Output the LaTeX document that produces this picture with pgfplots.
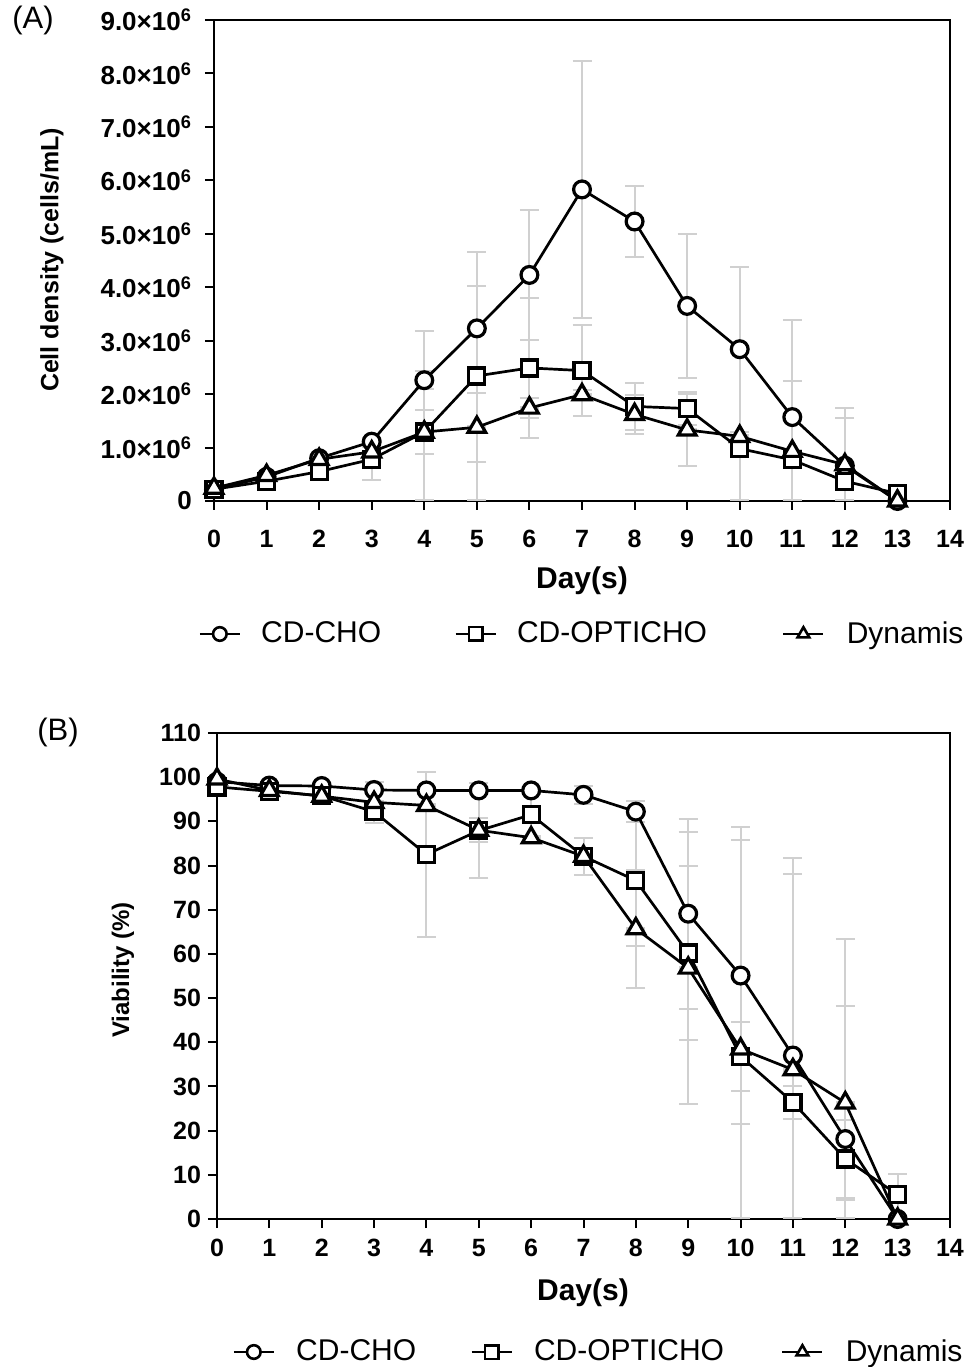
\documentclass[border=0pt]{standalone}
\usepackage{pgfplots}
\pgfplotsset{compat=1.18}
\usepackage{pgfplotstable}
\usetikzlibrary{arrows.meta}
\usepackage{fontspec}
\setmainfont{Liberation Sans}
\definecolor{errgray}{RGB}{208,208,208}
\newcommand{\tickfont}{\fontsize{12.5}{14}\selectfont\bfseries}
\newcommand{\legfont}{\fontsize{15}{17}\selectfont}

% day, mean, error plus, error minus
\pgfplotstableread{
x y ep em
0 0.22 0 0
1 0.45 0.05 0.05
2 0.80 0.05 0.05
3 1.11 0.05 0.05
4 2.26 0.19 0.19
5 3.23 0.81 0.81
6 4.23 1.23 1.23
7 5.83 2.42 2.42
8 5.23 0.68 0.68
9 3.65 1.37 1.37
10 2.84 1.56 1.56
11 1.57 1.84 1.57
12 0.66 1.09 0.66
13 0.00 0 0
}\Acho
\pgfplotstableread{
x y ep em
0 0.22 0 0
1 0.37 0.05 0.05
2 0.55 0.05 0.05
3 0.78 0.30 0.41
4 1.29 1.91 1.29
5 2.34 2.34 2.34
6 2.49 1.33 1.33
7 2.44 0.87 0.87
8 1.77 0.46 0.46
9 1.73 0.32 0.32
10 0.98 1.85 0.98
11 0.77 0.10 0.10
12 0.37 0.10 0.10
13 0.14 0 0
}\Aopti
\pgfplotstableread{
x y ep em
0 0.24 0 0
1 0.48 0.05 0.05
2 0.78 0.05 0.05
3 0.92 0.10 0.10
4 1.29 0.43 0.43
5 1.38 0.66 0.66
6 1.74 0.20 0.20
7 1.99 0.10 0.10
8 1.62 0.38 0.38
9 1.33 0.69 0.69
10 1.21 0.10 0.10
11 0.93 1.33 0.93
12 0.68 0.89 0.68
13 0.00 0 0
}\Adyn
\pgfplotstableread{
x y ep em
0 99.0 0 0
1 98.1 0 0
2 98.0 0 0
3 97.1 0 0
4 97.0 0 0
5 97.0 0 0
6 97.0 0 0
7 96.0 2.3 2.3
8 92.2 2.6 2.6
9 69.1 21.7 21.7
10 55.1 33.8 33.8
11 37.0 45.0 37.0
12 18.1 45.4 18.1
13 0.0 0 0
}\Bcho
\pgfplotstableread{
x y ep em
0 97.8 0 0
1 96.8 0 0
2 95.8 0 0
3 92.2 0 0
4 82.5 19.0 19.0
5 87.9 11.0 11.0
6 91.5 5.0 5.0
7 82.1 4.4 4.4
8 76.6 15.0 15.0
9 60.2 20.0 20.0
10 36.8 8.0 8.0
11 26.4 4.0 4.0
12 13.6 9.0 9.0
13 5.5 5.0 5.0
}\Bopti
\pgfplotstableread{
x y ep em
0 99.6 0 0
1 97.0 0 0
2 95.7 0 0
3 94.3 4.8 4.8
4 93.6 0 0
5 88.0 3.0 3.0
6 86.3 0 0
7 82.1 2.0 2.0
8 65.7 13.6 13.6
9 56.8 31.0 31.0
10 38.5 47.5 38.5
11 33.8 44.4 33.8
12 26.3 22.2 22.2
13 0.0 0 0
}\Bdyn

\pgfplotsset{
  panel/.style={
    scale only axis, clip=false,
    xmin=0, xmax=14, xtick={0,...,14},
    tick pos=left, tick align=outside, major tick length=4.5pt,
    axis line style={line width=1pt},
    every tick/.style={black, line width=1pt},
    tick label style={font=\tickfont},
    xticklabel style={anchor=north, text height=9pt, text depth=0pt},
    /pgf/number format/assume math mode=true,
    legend columns=3,
    legend style={draw=none, fill=none, inner sep=0pt, column sep=0pt,
      nodes={inner sep=0pt, font=\legfont}, anchor=west},
    legend image code/.code={\draw[mark repeat=2,mark phase=2,line width=1.4pt,mark size=3.4pt,every mark/.append style={line width=1.3pt}] plot coordinates {(0pt,0pt)(10pt,0pt)(20pt,0pt)};},
  },
  errs/.style={only marks, mark=none, forget plot,
    error bars/.cd, y dir=both, y explicit, error mark=none,
    error bar style={draw=errgray, line width=1pt,
      {Bar[width=9.5pt,line width=1pt]}-{Bar[width=9.5pt,line width=1pt]}}},
  ser/.style={black, line width=1.35pt, mark options={fill=white, line width=1.6pt, solid}},
}

\begin{document}
\begin{tikzpicture}
\path[use as bounding box] (0,0) rectangle (485.5pt,683.5pt);

% ---------- Panel A ----------
\begin{axis}[panel,
  at={(107pt,433pt)}, anchor=south west,
  width=368pt, height=240.5pt,
  ymin=0, ymax=9, ytick={0,...,9},
  xticklabel style={yshift=-6pt},
  yticklabels={0,{1.0×10\textsuperscript{6}},{2.0×10\textsuperscript{6}},{3.0×10\textsuperscript{6}},{4.0×10\textsuperscript{6}},{5.0×10\textsuperscript{6}},{6.0×10\textsuperscript{6}},{7.0×10\textsuperscript{6}},{8.0×10\textsuperscript{6}},{9.0×10\textsuperscript{6}}},
  yticklabel style={xshift=-3pt, font=\fontsize{13}{15}\selectfont\bfseries},
  legend style={at={(axis description cs:-0.0217,-0.2765)}},
]
\addplot[errs] table[x=x,y=y,y error plus=ep,y error minus=em]{\Acho};
\addplot[errs] table[x=x,y=y,y error plus=ep,y error minus=em]{\Aopti};
\addplot[errs] table[x=x,y=y,y error plus=ep,y error minus=em]{\Adyn};
\addplot[ser, mark=*, mark size=4.2pt] table[x=x,y=y]{\Acho};
\addplot[ser, mark=square*, mark size=4pt] table[x=x,y=y]{\Aopti};
\addplot[ser, mark=triangle*, mark size=5.1pt] table[x=x,y=y]{\Adyn};
\legend{{\hspace*{10pt}\makebox[96.5pt][l]{CD-CHO}},{\hspace*{10pt}\makebox[132.5pt][l]{CD-OPTICHO}},{\hspace*{11pt}Dynamis}}
\end{axis}

% ---------- Panel B ----------
\begin{axis}[panel,
  at={(108.5pt,74pt)}, anchor=south west,
  width=366.5pt, height=243pt,
  ymin=0, ymax=110, ytick={0,10,...,110},
  xticklabel style={yshift=-1.5pt},
  legend style={at={(axis description cs:0.0205,-0.2737)}},
]
\addplot[errs] table[x=x,y=y,y error plus=ep,y error minus=em]{\Bcho};
\addplot[errs] table[x=x,y=y,y error plus=ep,y error minus=em]{\Bopti};
\addplot[errs] table[x=x,y=y,y error plus=ep,y error minus=em]{\Bdyn};
\addplot[ser, mark=*, mark size=4.2pt] table[x=x,y=y]{\Bcho};
\addplot[ser, mark=square*, mark size=4pt] table[x=x,y=y]{\Bopti};
\addplot[ser, mark=triangle*, mark size=5.1pt] table[x=x,y=y]{\Bdyn};
\legend{{\hspace*{10.5pt}\makebox[87pt][l]{CD-CHO}},{\hspace*{10.5pt}\makebox[123.5pt][l]{CD-OPTICHO}},{\hspace*{11pt}Dynamis}}
\end{axis}

% ---------- labels ----------
\node[font=\fontsize{15.5}{17}\selectfont] at (16.5pt,673.5pt) {(A)};
\node[font=\fontsize{15.5}{17}\selectfont] at (29pt,317.5pt) {(B)};
\node[font=\fontsize{12.5}{14}\selectfont\bfseries, rotate=90] at (26pt,553.5pt) {Cell density (cells/mL)};
\node[font=\fontsize{15}{17}\selectfont\bfseries] at (291pt,393pt) {Day(s)};
\node[font=\fontsize{12}{14}\selectfont\bfseries, rotate=90] at (61.5pt,198.5pt) {Viability (\%)};
\node[font=\fontsize{15}{17}\selectfont\bfseries] at (291.5pt,37.3pt) {Day(s)};
\end{tikzpicture}
\end{document}
